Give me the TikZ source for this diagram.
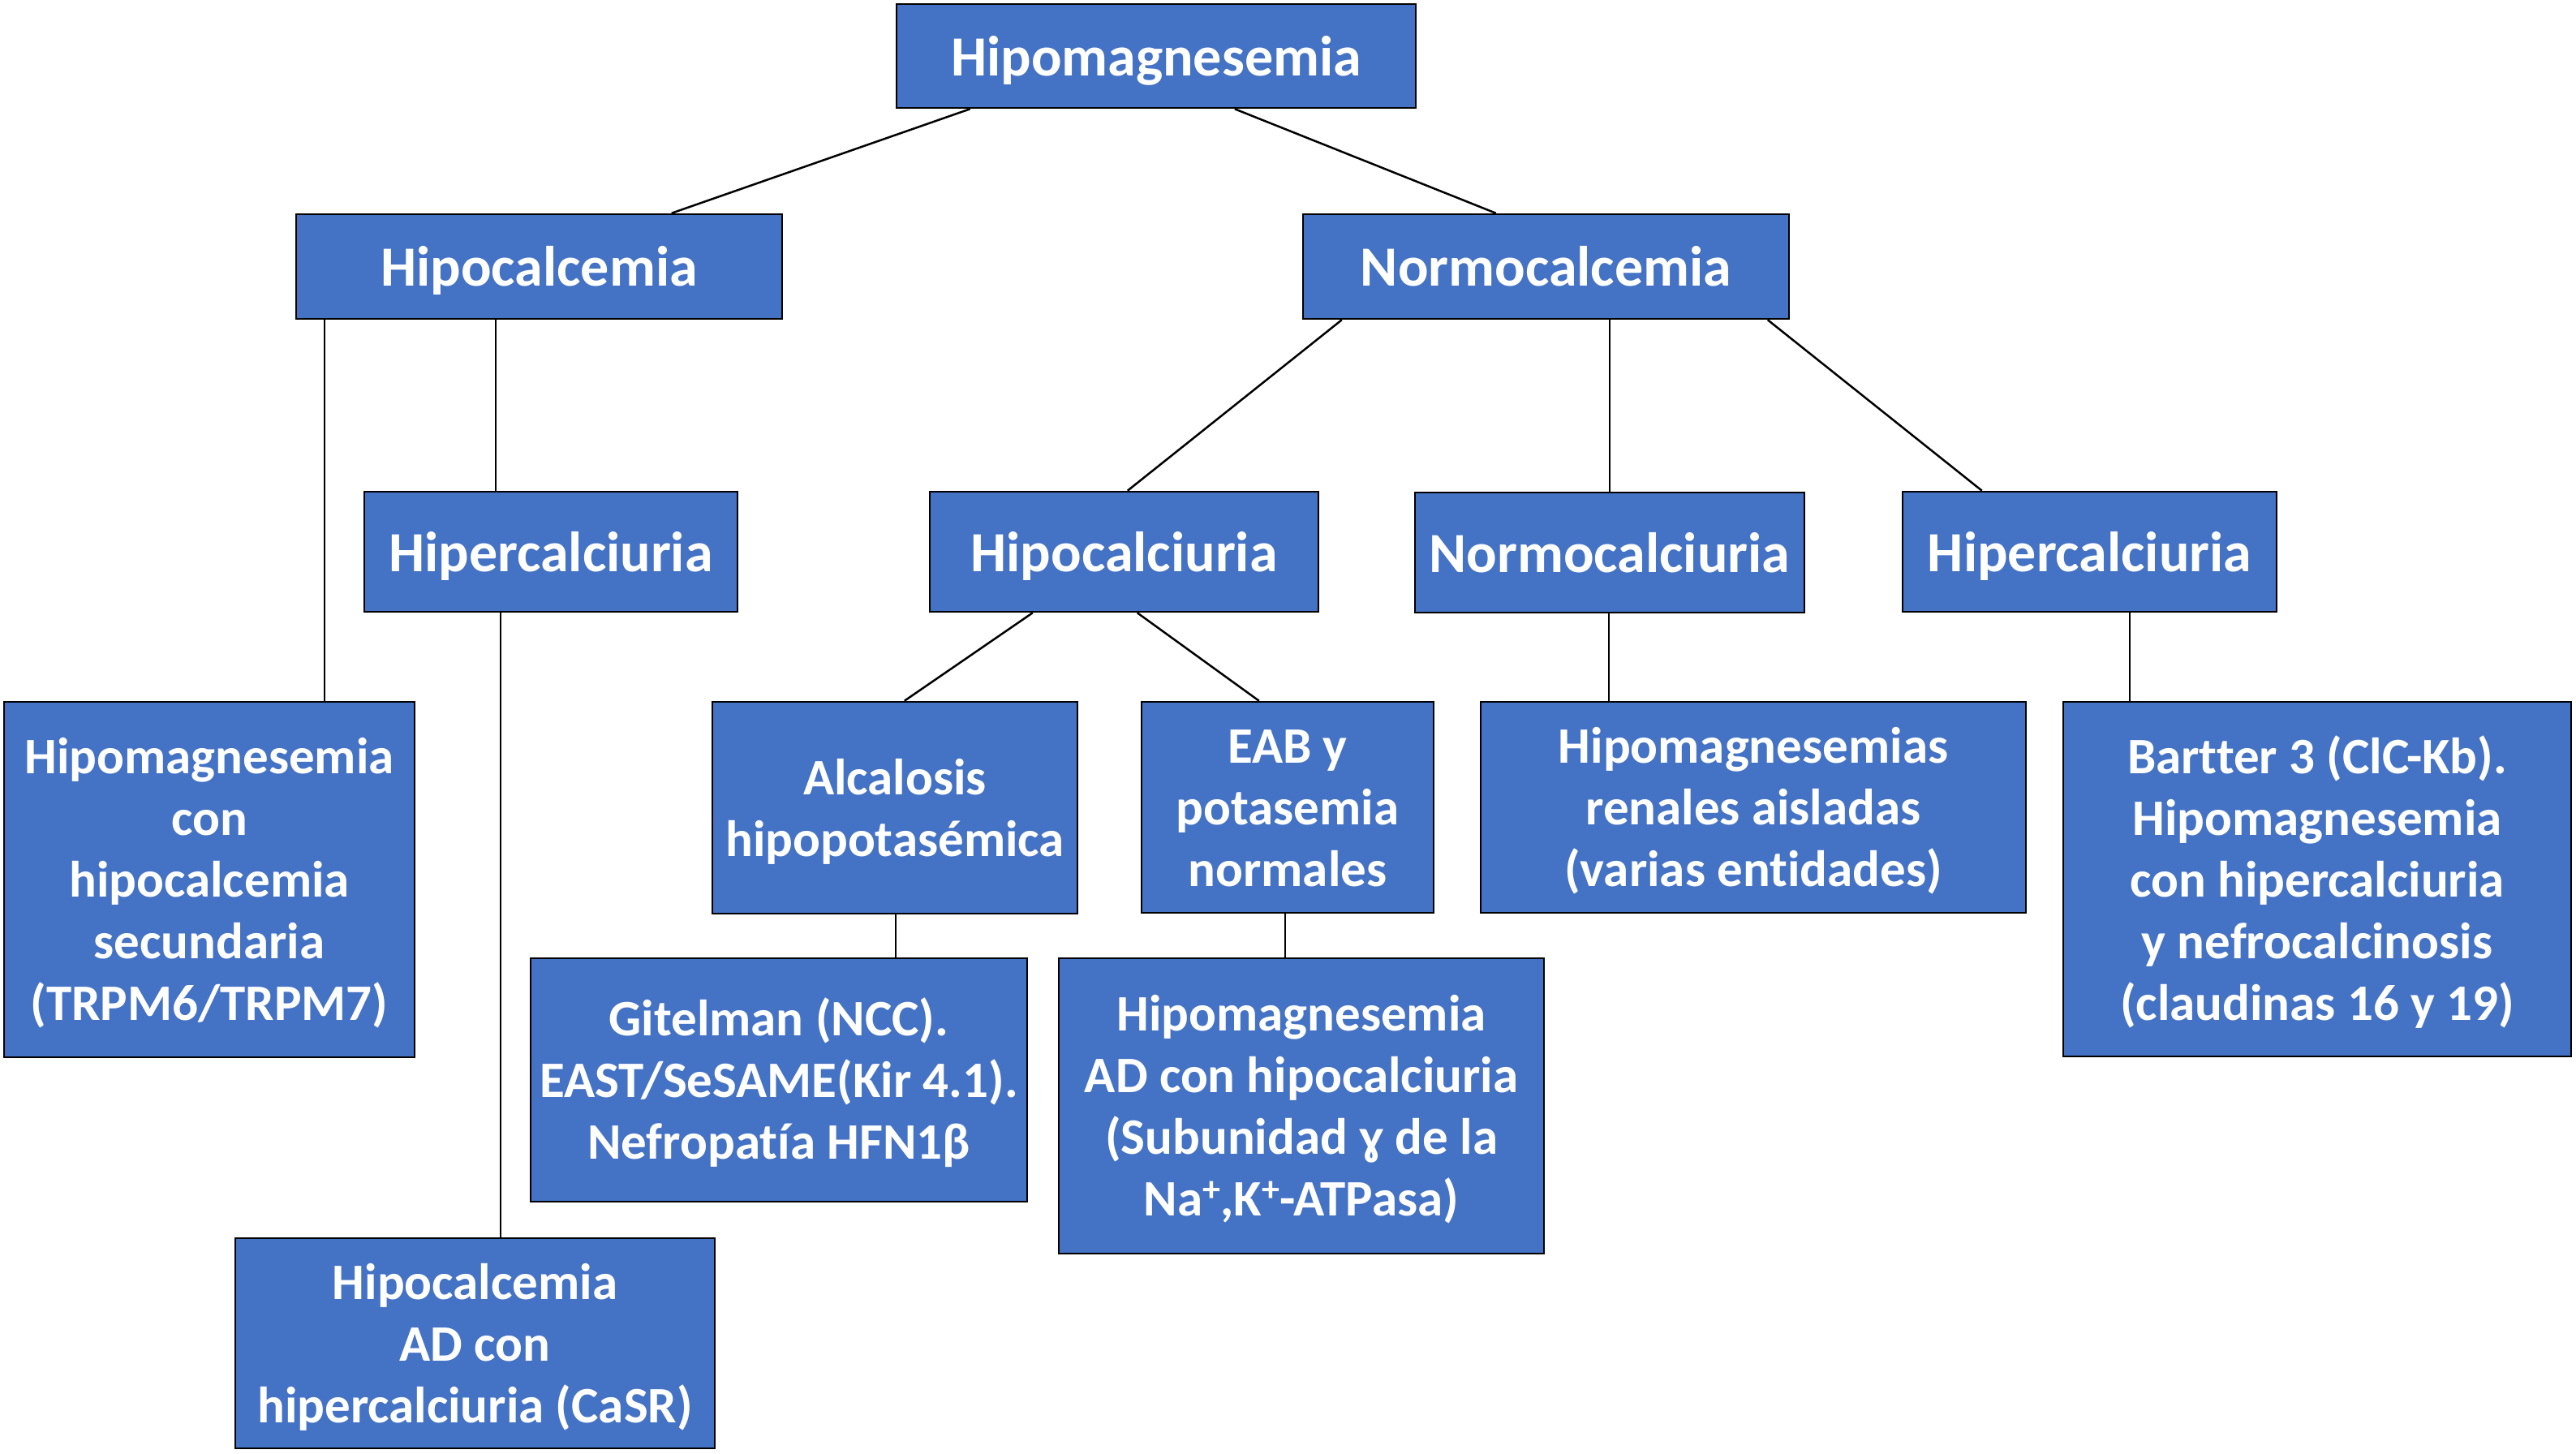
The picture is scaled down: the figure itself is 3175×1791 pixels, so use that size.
\documentclass[tikz,border=0pt]{standalone}
\usepackage{fontspec}
\setmainfont{Carlito}[Ligatures=NoCommon]
\usetikzlibrary{calc}
\definecolor{boxblue}{HTML}{4472C4}
\tikzset{
  box/.style={draw=black, line width=2.5pt, fill=boxblue, text=white,
    font=\fontsize{70}{76}\selectfont\bfseries, align=center, inner sep=0pt},
  smallbox/.style={box, font=\fontsize{63}{76}\selectfont\bfseries},
  link/.style={draw=black, line width=2.5pt}
}
% #1 style, #2 name, #3-#6 corners, #7 text
\newcommand\boxat[7]{%
  \node[#1, minimum width={#5-#3}, minimum height={#6-#4}] (#2) at ({(#3+#5)/2},{(#4+#6)/2})
    {\rule{0pt}{\dimexpr0.932em+4pt\relax}#7\rule[-0.3em]{0pt}{0pt}};}
\newcommand\vlink[3]{\draw[link] ($(#1.south west)+(#2,0)$) coordinate (tmp) -- (tmp |- #3.north);}
\newcommand\supplus{\raisebox{0.3em}{\fontsize{44}{44}\selectfont +}}
\begin{document}
\begin{tikzpicture}[x=1pt,y=-1pt]
\useasboundingbox (0,0) rectangle (3175,1791);
\boxat{box}{top}{1105}{5}{1745}{133}{Hipomagnesemia}
\boxat{box}{hcal}{365}{264}{964}{393}{Hipocalcemia}
\boxat{box}{ncal}{1606}{264}{2205}{393}{Normocalcemia}
\boxat{box}{hcuA}{449}{606}{909}{754}{Hipercalciuria}
\boxat{box}{hocu}{1146}{606}{1625}{754}{Hipocalciuria}
\boxat{box}{ncu}{1744}{607}{2224}{755}{Normocalciuria}
\boxat{box}{hcuB}{2345}{606}{2806}{754}{Hipercalciuria}
\boxat{smallbox}{bA}{5}{865}{511}{1303}{Hipomagnesemia\\con\\hipocalcemia\\secundaria\\(TRPM6/TRPM7)}
\boxat{smallbox}{alc}{878}{865}{1328}{1126}{Alcalosis\\hipopotasémica}
\boxat{smallbox}{eab}{1407}{865}{1767}{1125}{EAB y\\potasemia\\normales}
\boxat{smallbox}{ren}{1825}{865}{2497}{1125}{Hipomagnesemias\\renales aisladas\\(varias entidades)}
\boxat{smallbox}{bart}{2543}{865}{3169}{1302}{Bartter 3 (ClC-Kb).\\Hipomagnesemia\\con hipercalciuria\\y nefrocalcinosis\\(claudinas 16 y 19)}
\boxat{smallbox}{git}{654}{1181}{1266}{1481}{Gitelman (NCC).\\EAST/SeSAME(Kir 4.1).\\Nefropatía HFN1β}
\boxat{smallbox}{had}{1305}{1181}{1903}{1545}{Hipomagnesemia\\AD con hipocalciuria\\(Subunidad ɣ de la\\Na\supplus,K\supplus-ATPasa)}
\boxat{smallbox}{hcad}{290}{1526}{881}{1785}{Hipocalcemia\\AD con\\hipercalciuria (CaSR)}
% connectors
\draw[link] ($(top.south west)+(92,0)$) -- ($(hcal.north west)+(464,0)$);
\draw[link] ($(top.south west)+(418,0)$) -- ($(ncal.north west)+(239,0)$);
\vlink{hcal}{36}{bA}
\vlink{hcal}{247}{hcuA}
\vlink{hcuA}{169}{hcad}
\draw[link] ($(ncal.south west)+(49,0)$) -- ($(hocu.north west)+(245,0)$);
\vlink{ncal}{379}{ncu}
\draw[link] ($(ncal.south west)+(574,0)$) -- ($(hcuB.north west)+(99,0)$);
\draw[link] ($(hocu.south west)+(128,0)$) -- ($(alc.north west)+(238,0)$);
\draw[link] ($(hocu.south west)+(257,0)$) -- ($(eab.north west)+(146,0)$);
\vlink{alc}{227}{git}
\vlink{eab}{178}{had}
\vlink{ncu}{240}{ren}
\vlink{hcuB}{281}{bart}
\end{tikzpicture}
\end{document}
